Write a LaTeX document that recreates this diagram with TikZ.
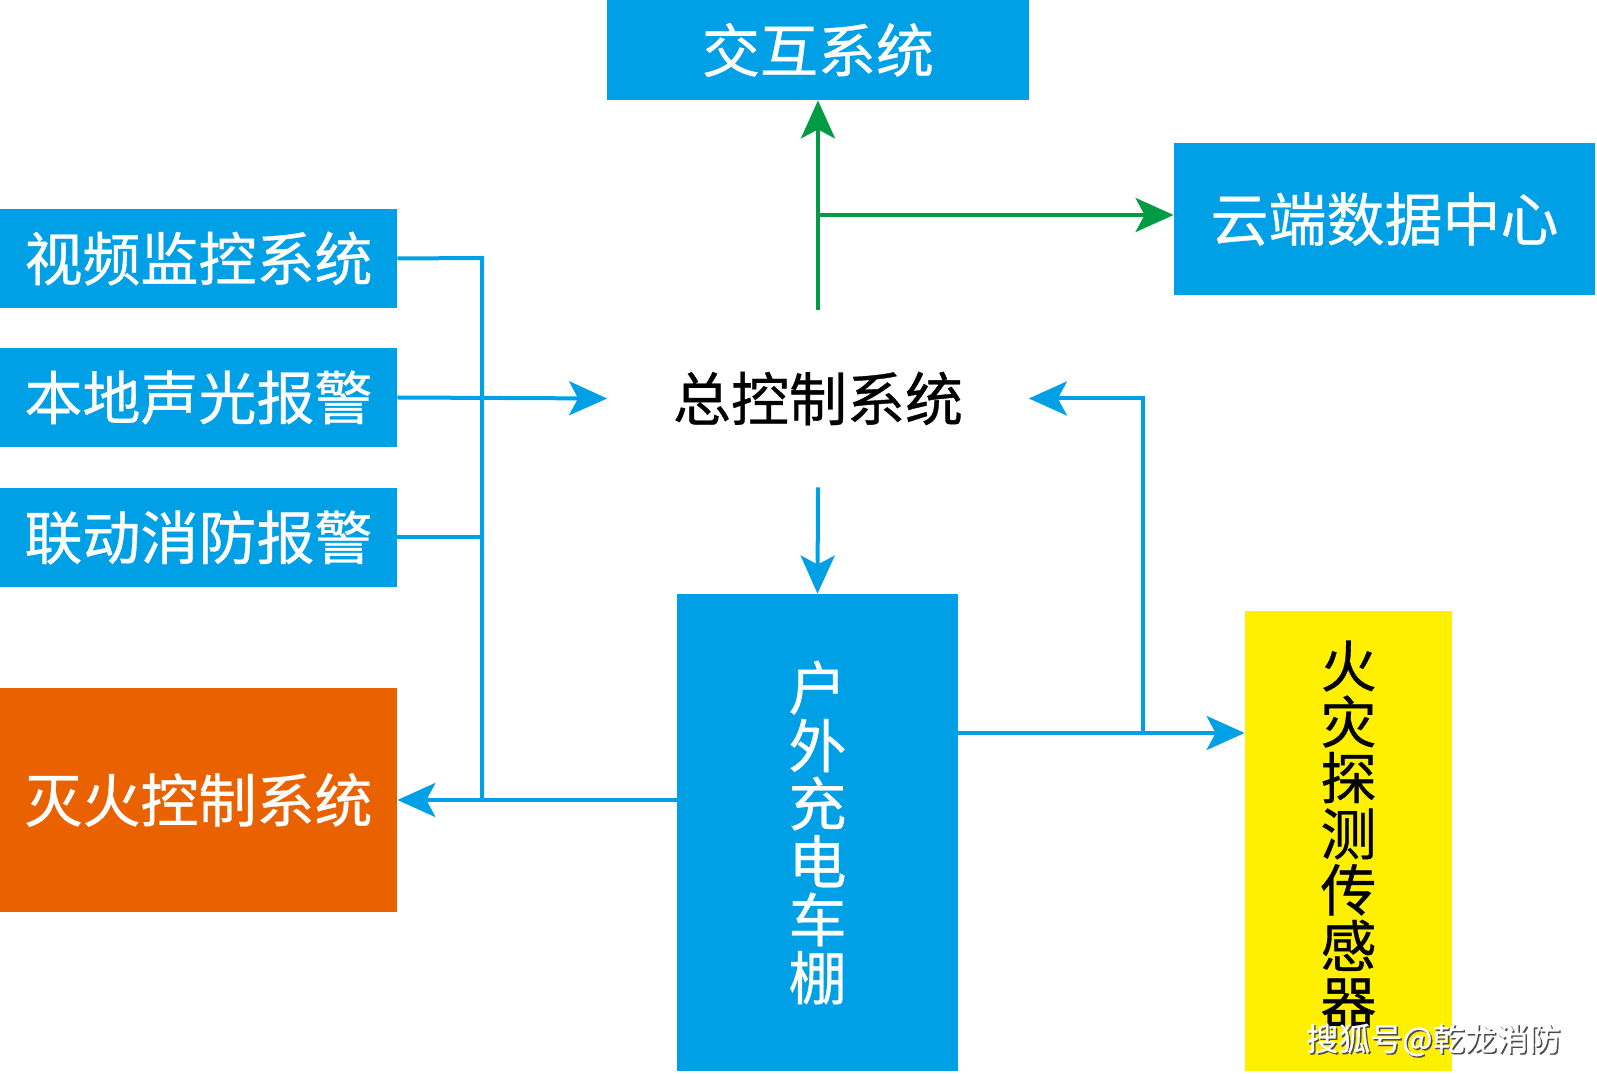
\documentclass[tikz,border=0pt]{standalone}
\usepackage{fontspec}
\setmainfont{Noto Sans CJK SC}
\newfontfamily\cjk[FakeBold=0.6]{Noto Sans CJK SC}
\usetikzlibrary{arrows.meta}
\definecolor{cblue}{HTML}{00A0E6}
\definecolor{corange}{HTML}{EA6100}
\definecolor{cyellow}{HTML}{FFF000}
\definecolor{cgreen}{HTML}{009B42}
\tikzset{
  box/.style={fill=#1, draw=none, inner sep=0pt, text=white, font=\cjk\fontsize{29}{29}\selectfont},
  bl/.style={draw=cblue, line width=2pt},
  gr/.style={draw=cgreen, line width=2pt},
  tipb/.style={-{Stealth[length=19pt,width=17pt,inset=4.5pt]}},
}
\begin{document}
\begin{tikzpicture}[x=0.5pt,y=-0.5pt]
\useasboundingbox (0,0) rectangle (1597,1074);
% boxes
\node[box=cblue, minimum width=211pt, minimum height=50pt] (jh) at (818,50) {交互系统};
\node[box=cblue, minimum width=210.5pt, minimum height=76pt] (yd) at (1384.5,219) {云端数据中心};
\node[box=cblue, minimum width=198.5pt, minimum height=49.5pt] (sp) at (198.5,258.5) {视频监控系统};
\node[box=cblue, minimum width=198.5pt, minimum height=49.5pt] (bd) at (198.5,397.5) {本地声光报警};
\node[box=cblue, minimum width=198.5pt, minimum height=49.5pt] (ld) at (198.5,537.5) {联动消防报警};
\node[box=corange, minimum width=198.5pt, minimum height=112pt] (mh) at (198.5,800) {灭火控制系统};
\node[box=cblue, minimum width=140.5pt, minimum height=238.5pt, align=center] (hw) at (817.5,832.5) {户\\外\\充\\电\\车\\棚};
\node[box=cyellow, minimum width=103.5pt, minimum height=230pt] (hz) at (1348.5,841) {};
\node[text=black, inner sep=0pt, align=center, font=\cjk\fontsize{28}{28}\selectfont] (hzt) at (1348.5,834) {火\\灾\\探\\测\\传\\感\\器};
\node[inner sep=0pt, minimum width=210.5pt, minimum height=88.5pt, font=\cjk\fontsize{29}{29}\selectfont] (zk) at (818,398.5) {总控制系统};
% coordinates
\coordinate (b1) at (482,258);
\coordinate (b2) at (482,800);
\coordinate (g) at (818,215);
\coordinate (r) at (1143,733);
% left bus
\draw[bl] (sp.east) -- (b1) -- (b2);
\draw[bl] (ld.east) -- (ld.east -| b1);
\draw[bl,tipb] (bd.east) -- (zk.west);
\draw[bl,tipb] (mh.east -| hw.west) -- (mh.east);
% green
\draw[gr,tipb] (zk.north) -- (jh.south);
\draw[gr,tipb] (g) -- (g -| yd.west);
% down
\draw[bl,tipb] (zk.south) -- (hw.north);
% right
\draw[bl,tipb] (hw.east |- r) -- (r -| hz.west);
\draw[bl,tipb] (r) -- (r |- zk.east) -- (zk.east);
% watermark
\node[text=black!70, font=\cjk\fontsize{16}{16}\selectfont, inner sep=0pt] (wms) at (1435,1041.5) {搜狐号@乾龙消防};
\node[text=white, font=\cjk\fontsize{16}{16}\selectfont, inner sep=0pt] (wm) at (1433.5,1040) {搜狐号@乾龙消防};
\end{tikzpicture}
\end{document}
